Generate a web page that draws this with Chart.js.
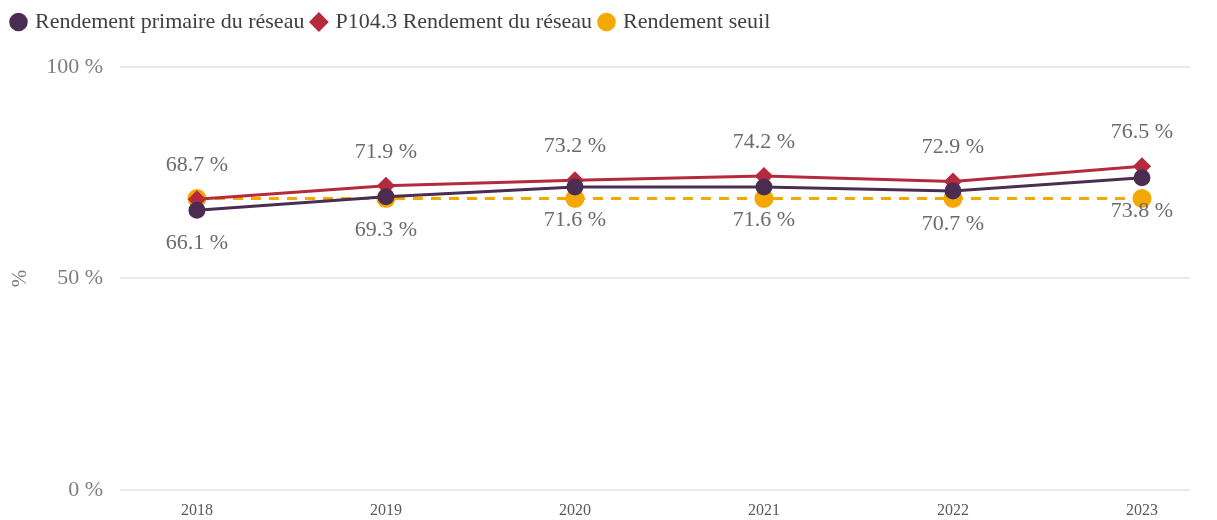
<!DOCTYPE html>
<html>
<head>
<meta charset="utf-8">
<script src="https://cdn.jsdelivr.net/npm/chart.js@4.4.1/dist/chart.umd.min.js"></script>
<style>
  html, body { margin: 0; padding: 0; background: #ffffff; overflow: hidden; }
  canvas { display: block; }
</style>
</head>
<body>
<canvas id="rendement-chart" width="1217" height="520"></canvas>
<script>
const years = [2018, 2019, 2020, 2021, 2022, 2023];
const rendementPrimaire = [66.1, 69.3, 71.6, 71.6, 70.7, 73.8];
const rendementReseau = [68.7, 71.9, 73.2, 74.2, 72.9, 76.5];
const rendementSeuil = [68.9, 68.9, 68.9, 68.9, 68.9, 68.9];
const yTicks = [0, 50, 100];

const serif = "'Liberation Serif', 'DejaVu Serif', serif";

function toPoints(values) {
  return values.map((v, i) => ({ x: years[i], y: v }));
}

// draws the value labels next to the points (above for red, below for purple)
const valueLabels = {
  id: "valueLabels",
  afterDatasetsDraw(chart) {
    const ctx = chart.ctx;
    ctx.save();
    ctx.font = "22px " + serif;
    ctx.fillStyle = "#6b6b6b";
    ctx.textAlign = "center";
    ctx.textBaseline = "middle";
    chart.data.datasets.forEach((ds, di) => {
      if (!ds.labelPos) return;
      const meta = chart.getDatasetMeta(di);
      meta.data.forEach((pt, i) => {
        const dy = ds.labelPos === "above" ? -34 : 33;
        ctx.fillText(ds.data[i].y.toFixed(1) + " %", pt.x, pt.y + dy);
      });
    });
    ctx.restore();
  },
};

// leaves some room between the legend and the plot
const legendSpacer = {
  id: "legendSpacer",
  beforeInit(chart) {
    const fit = chart.legend.fit;
    chart.legend.fit = function () {
      fit.bind(chart.legend)();
      this.height += 24;
    };
  },
};

const ctx = document.getElementById("rendement-chart").getContext("2d");
const chart = new Chart(ctx, {
  type: "line",
  data: {
    datasets: [
      {
        label: "Rendement primaire du réseau",
        data: toPoints(rendementPrimaire),
        borderColor: "#4b2d52",
        backgroundColor: "#4b2d52",
        borderWidth: 3,
        pointStyle: "circle",
        pointRadius: 7,
        pointHoverRadius: 7,
        labelPos: "below",
      },
      {
        label: "P104.3 Rendement du réseau",
        data: toPoints(rendementReseau),
        borderColor: "#b52a3c",
        backgroundColor: "#b52a3c",
        borderWidth: 3,
        pointStyle: "rectRot",
        pointRadius: 7,
        pointHoverRadius: 7,
        labelPos: "above",
      },
      {
        label: "Rendement seuil",
        data: toPoints(rendementSeuil),
        borderColor: "#f5a900",
        backgroundColor: "#f5a900",
        borderWidth: 3,
        borderDash: [10, 8],
        pointStyle: "circle",
        pointRadius: 8,
        pointHoverRadius: 8,
      },
    ],
  },
  options: {
    responsive: false,
    animation: false,
    layout: {
      padding: { left: 4, right: 27, top: 2, bottom: -3 },
    },
    scales: {
      x: {
        type: "linear",
        min: 2017.593,
        max: 2023.254,
        grid: { display: false, drawTicks: false },
        border: { display: false },
        ticks: {
          stepSize: 1,
          includeBounds: false,
          color: "#595959",
          font: { family: serif, size: 16 },
          padding: 11,
          callback: (v) => String(v),
        },
        afterFit: (scale) => {
          scale.height = 27;
        },
      },
      y: {
        min: 0,
        max: 100,
        afterBuildTicks: (scale) => {
          scale.ticks = yTicks.map((v) => ({ value: v }));
        },
        grid: { color: "#e8e8e8", lineWidth: 2, drawTicks: false },
        border: { display: false },
        ticks: {
          color: "#7f7f7f",
          font: { family: serif, size: 22 },
          padding: 17,
          callback: (v) => v + " %",
        },
        title: {
          display: true,
          text: "%",
          color: "#7f7f7f",
          font: { family: serif, size: 21 },
          padding: { top: 4, bottom: 0 },
        },
        afterFit: (scale) => {
          scale.width = 116;
        },
      },
    },
    plugins: {
      legend: {
        display: true,
        position: "top",
        align: "start",
        labels: {
          usePointStyle: true,
          boxWidth: 11,
          boxHeight: 11,
          color: "#404040",
          font: { family: serif, size: 22 },
          padding: 9,
        },
      },
      tooltip: { enabled: false },
    },
  },
  plugins: [valueLabels, legendSpacer],
});
</script>
</body>
</html>
